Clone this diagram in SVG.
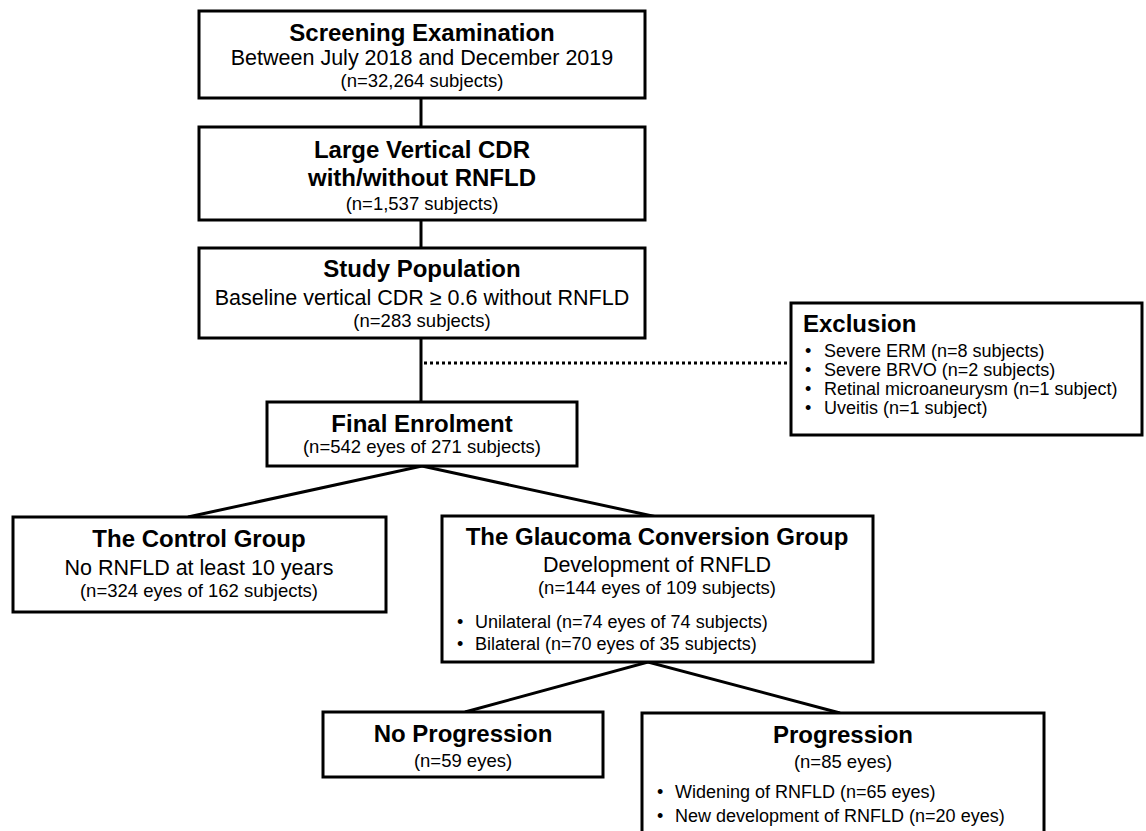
<svg xmlns="http://www.w3.org/2000/svg" width="1146" height="831" viewBox="0 0 1146 831">
<style>
.box{fill:#fff;stroke:#000;stroke-width:3}
.ln{fill:none;stroke:#000;stroke-width:3}
.dot{fill:none;stroke:#000;stroke-width:3;stroke-dasharray:3 3}
text{font-family:"Liberation Sans",Arial,sans-serif;fill:#000}
.t{font-size:24px;font-weight:bold;text-anchor:middle}
.s{font-size:21.5px;text-anchor:middle}
.n{font-size:18.5px;text-anchor:middle}
.b{font-size:18px}
</style>
<rect width="1146" height="831" fill="#fff"/>
<g id="connectors">
<line class="ln" x1="421" y1="98" x2="421" y2="127"/>
<line class="ln" x1="421" y1="220" x2="421" y2="248"/>
<line class="ln" x1="421" y1="338" x2="421" y2="402"/>
<line class="dot" x1="424" y1="363" x2="790" y2="363"/>
<polyline class="ln" points="188,517 422,466 657,517"/>
<polyline class="ln" points="465,712 648,662 840,713"/>
</g>
<g id="screening">
<rect class="box" x="199" y="11" width="446" height="87"/>
<text class="t" x="422" y="41">Screening Examination</text>
<text class="s" x="422" y="65">Between July 2018 and December 2019</text>
<text class="n" x="422" y="87">(n=32,264 subjects)</text>
</g>
<g id="large-cdr">
<rect class="box" x="199" y="127" width="446" height="93"/>
<text class="t" x="422" y="158">Large Vertical CDR</text>
<text class="t" x="422" y="186">with/without RNFLD</text>
<text class="n" x="422" y="210">(n=1,537 subjects)</text>
</g>
<g id="study-population">
<rect class="box" x="199" y="248" width="446" height="90"/>
<text class="t" x="422" y="277">Study Population</text>
<text class="s" x="422" y="305">Baseline vertical CDR ≥ 0.6 without RNFLD</text>
<text class="n" x="422" y="327">(n=283 subjects)</text>
</g>
<g id="exclusion">
<rect class="box" x="791" y="303" width="351" height="132"/>
<text x="803" y="332" style="font-size:24px;font-weight:bold">Exclusion</text>
<g class="b">
<text x="805" y="357">•</text><text x="824" y="357">Severe ERM (n=8 subjects)</text>
<text x="805" y="376">•</text><text x="824" y="376">Severe BRVO (n=2 subjects)</text>
<text x="805" y="395">•</text><text x="824" y="395">Retinal microaneurysm (n=1 subject)</text>
<text x="805" y="414">•</text><text x="824" y="414">Uveitis (n=1 subject)</text>
</g>
</g>
<g id="final-enrolment">
<rect class="box" x="267" y="402" width="310" height="64"/>
<text class="t" x="422" y="432">Final Enrolment</text>
<text class="n" x="422" y="453">(n=542 eyes of 271 subjects)</text>
</g>
<g id="control-group">
<rect class="box" x="13" y="517" width="373" height="95"/>
<text class="t" x="199" y="547">The Control Group</text>
<text class="s" x="199" y="575">No RNFLD at least 10 years</text>
<text class="n" x="199" y="597">(n=324 eyes of 162 subjects)</text>
</g>
<g id="glaucoma-group">
<rect class="box" x="442" y="516" width="431" height="146"/>
<text class="t" x="657" y="545">The Glaucoma Conversion Group</text>
<text class="s" x="657" y="572">Development of RNFLD</text>
<text class="n" x="657" y="594">(n=144 eyes of 109 subjects)</text>
<g class="b">
<text x="457" y="628">•</text><text x="475" y="628">Unilateral (n=74 eyes of 74 subjects)</text>
<text x="457" y="650">•</text><text x="475" y="650">Bilateral (n=70 eyes of 35 subjects)</text>
</g>
</g>
<g id="no-progression">
<rect class="box" x="323" y="712" width="280" height="65"/>
<text class="t" x="463" y="742">No Progression</text>
<text class="n" x="463" y="767">(n=59 eyes)</text>
</g>
<g id="progression">
<rect class="box" x="642" y="713" width="402" height="130"/>
<text class="t" x="843" y="743">Progression</text>
<text class="n" x="843" y="768">(n=85 eyes)</text>
<g class="b">
<text x="657" y="798">•</text><text x="675" y="798">Widening of RNFLD (n=65 eyes)</text>
<text x="657" y="822">•</text><text x="675" y="822">New development of RNFLD (n=20 eyes)</text>
</g>
</g>
</svg>
